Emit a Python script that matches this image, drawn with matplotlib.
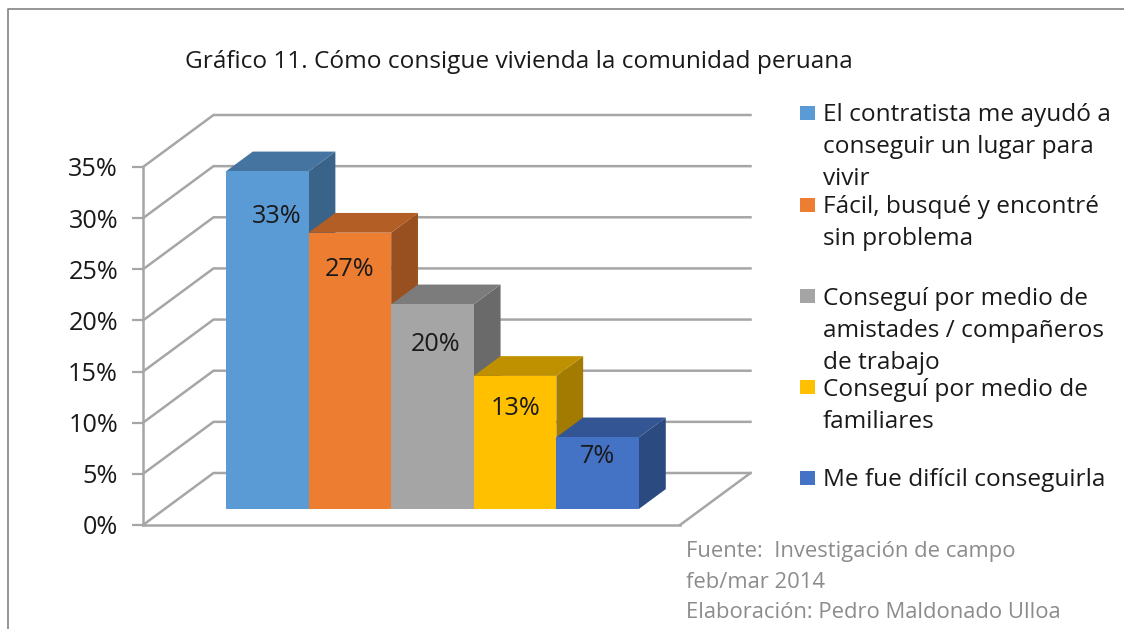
import matplotlib
matplotlib.use("Agg")
import matplotlib.pyplot as plt
from matplotlib.patches import Polygon, Rectangle
from matplotlib.lines import Line2D

W, H = 1124, 629
plt.rcParams['font.family'] = ['Open Sans', 'DejaVu Sans']

title = "Gráfico 11. Cómo consigue vivienda la comunidad peruana"
categories = [
    "El contratista me ayudó a\nconseguir un lugar para\nvivir",
    "Fácil, busqué y encontré\nsin problema",
    "Conseguí por medio de\namistades / compañeros\nde trabajo",
    "Conseguí por medio de\nfamiliares",
    "Me fue difícil conseguirla",
]
values = [33, 27, 20, 13, 7]
yticks = [0, 5, 10, 15, 20, 25, 30, 35]
source_lines = ["Fuente:  Investigación de campo", "feb/mar 2014",
                "Elaboración: Pedro Maldonado Ulloa"]

front = ['#5B9BD5', '#ED7D31', '#A5A5A5', '#FFC000', '#4472C4']
top = ['#4674A0', '#B25E25', '#7C7C7C', '#BF9000', '#335593']
side = ['#3A6389', '#985020', '#6A6A6A', '#A37B00', '#2A4A80']
GRID = '#A6A6A6'
TEXT = '#1A1A1A'

fig = plt.figure(figsize=(W / 100, H / 100), dpi=100, facecolor='white')

def px_x(x): return x / W
def px_y(y): return 1 - y / H

# Drawing axes: front edge of the floor and front of the side wall
L, B, R, T = 143, 525, 680, 167
ax = fig.add_axes([px_x(L), px_y(B), (R - L) / W, (B - T) / H])
ax.patch.set_alpha(0)
ax.set_xlim(0, (R - L) / 82.6)
ax.set_ylim(0, 35)
ax.set_xticks([])
ax.set_yticks(yticks)
ax.set_yticklabels([f"{v}%" for v in yticks], fontsize=18.2, color=TEXT)
ax.tick_params(axis='y', length=8, width=1.6, color=GRID, pad=10)
for s in ('top', 'right'):
    ax.spines[s].set_visible(False)
for s in ('left', 'bottom'):
    ax.spines[s].set_color(GRID)
    ax.spines[s].set_linewidth(1.8)

x_unit = 82.6
y_unit = (B - T) / 35
DX = 70.5 / x_unit    # floor depth, horizontal component
DY = 52 / y_unit      # floor depth, vertical component
xmax = ax.get_xlim()[1]

def proj(x, v, d):
    return x + DX * d, v + DY * d

# Walls and floor
for v in yticks:
    ax.add_line(Line2D(*zip(proj(0, v, 0), proj(0, v, 1), proj(xmax, v, 1)),
                       color=GRID, lw=1.8, clip_on=False, zorder=1,
                       solid_joinstyle='miter'))
ax.add_line(Line2D(*zip(proj(xmax, 0, 0), proj(xmax, 0, 1)),
                   color=GRID, lw=1.8, clip_on=False, zorder=1))

# Bars
bar_start = 0.74
d0, d1 = 0.31, 0.69
for i, v in enumerate(values):
    x0, x1 = bar_start + i, bar_start + i + 1
    z = 3 + i
    ax.add_patch(Polygon([proj(x1, 0, d0), proj(x1, 0, d1), proj(x1, v, d1), proj(x1, v, d0)],
                         fc=side[i], ec='none', clip_on=False, zorder=z))
    ax.add_patch(Polygon([proj(x0, v, d0), proj(x0, v, d1), proj(x1, v, d1), proj(x1, v, d0)],
                         fc=top[i], ec='none', clip_on=False, zorder=z))
    ax.add_patch(Polygon([proj(x0, 0, d0), proj(x1, 0, d0), proj(x1, v, d0), proj(x0, v, d0)],
                         fc=front[i], ec='none', clip_on=False, zorder=z))

# Data labels (manually dragged in the original)
label_dx = [9, 0, 3, 1, 0]
label_dy = [45, 37, 40, 33, 19]
for i, v in enumerate(values):
    cx, cy = proj(bar_start + i + 0.5, v, d0)
    ax.annotate(f"{v}%", (cx, cy), xytext=(label_dx[i] * 0.72, -label_dy[i] * 0.72),
                textcoords='offset points', ha='center', va='center',
                fontsize=18.2, color=TEXT, zorder=20, annotation_clip=False)

# Title
fig.text(px_x(185), px_y(62), title, fontsize=17.6, color=TEXT, ha='left', va='center')

# Legend
legend_mid = [147, 223, 331, 406, 480]
legend_sq = [113, 205, 296, 387, 478]
for i, lab in enumerate(categories):
    fig.add_artist(Rectangle((px_x(800), px_y(legend_sq[i] + 7)), 15 / W, 14 / H,
                             transform=fig.transFigure, fc=front[i], ec='none'))
    fig.text(px_x(823), px_y(legend_mid[i]), lab, fontsize=17.6, color=TEXT,
             ha='left', va='center', linespacing=1.47)

# Source
for y, line in zip([552, 582, 612], source_lines):
    fig.text(px_x(686), px_y(y), line, fontsize=15.8, color='#8C8C8C', ha='left', va='center')

# Outer frame
fig.add_artist(Line2D([px_x(8), px_x(8), px_x(1124)], [0, px_y(9), px_y(9)],
                      transform=fig.transFigure, color='#8C8C8C', lw=1.3))

fig.savefig('out.png', dpi=100, facecolor='white')
